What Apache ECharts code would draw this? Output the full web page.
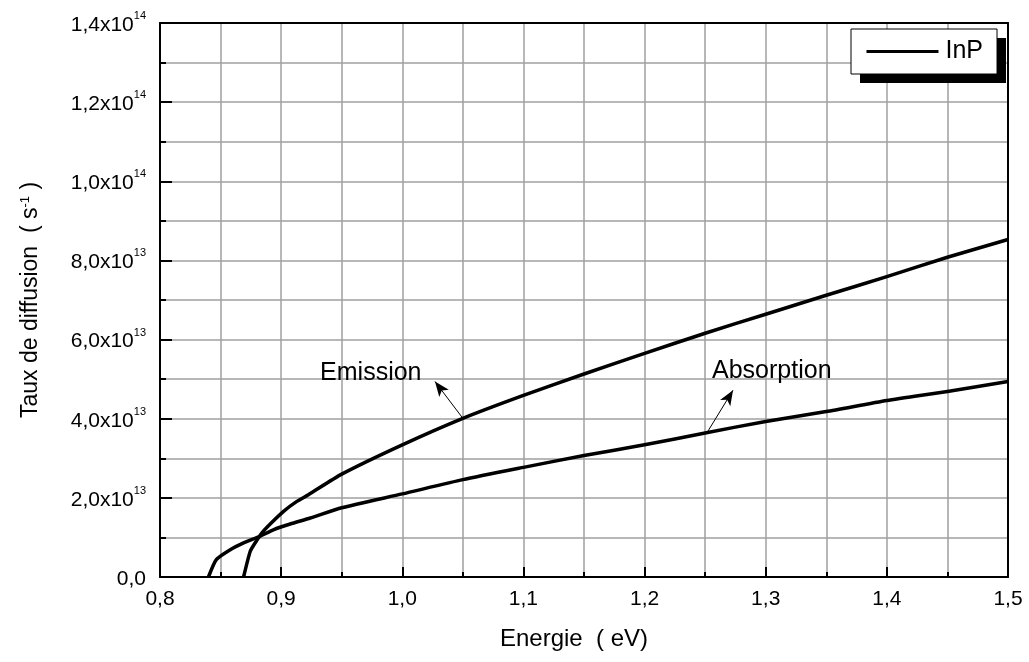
<!DOCTYPE html>
<html>
<head>
<meta charset="utf-8">
<script src="https://cdn.jsdelivr.net/npm/echarts@6/dist/echarts.min.js"></script>
<style>
  html, body { margin: 0; padding: 0; background: #fff; }
  #chart { width: 1029px; height: 662px; }
</style>
</head>
<body>
<div id="chart"></div>
<script>
// Scattering rates in InP versus electron energy (eV), rates in s^-1
const emissionEnergy = [0.869, 0.8745, 0.8785, 0.884, 0.892, 0.902, 0.913, 0.9225, 0.95, 1.0, 1.05, 1.1, 1.15, 1.2, 1.25, 1.3, 1.35, 1.4, 1.45, 1.5];
const emissionRate = [0, 0.65e13, 0.86e13, 1.11e13, 1.37e13, 1.66e13, 1.91e13, 2.08e13, 2.6e13, 3.34e13, 4.01e13, 4.59e13, 5.13e13, 5.65e13, 6.16e13, 6.64e13, 7.12e13, 7.59e13, 8.08e13, 8.53e13];

const absorptionEnergy = [0.840, 0.8465, 0.858, 0.869, 0.8825, 0.894, 0.9075, 0.924, 0.95, 1.0, 1.05, 1.1, 1.15, 1.2, 1.25, 1.3, 1.35, 1.4, 1.45, 1.5];
const absorptionRate = [0, 0.44e13, 0.69e13, 0.86e13, 1.03e13, 1.2e13, 1.34e13, 1.49e13, 1.75e13, 2.1e13, 2.46e13, 2.77e13, 3.07e13, 3.34e13, 3.64e13, 3.93e13, 4.18e13, 4.46e13, 4.69e13, 4.94e13];

// Curve labels with their arrows: [energy, rate] for text, arrow tail (on the curve) and arrow tip
const emissionNote = { text: 'Emission', at: [0.974, 5.14e13], tail: [1.05, 4.01e13], tip: [1.027, 4.94e13] };
const absorptionNote = { text: 'Absorption', at: [1.305, 5.21e13], tail: [1.252, 3.67e13], tip: [1.273, 4.72e13] };

const FONT = '"Liberation Sans", Arial, sans-serif';

function zip(xs, ys) { return xs.map((x, i) => [x, ys[i]]); }

// "1,4x10^14" style labels with a raised exponent
function sciLabel(v) {
  if (v === 0) return '{m|0,0}';
  const e = Math.floor(Math.log10(v) + 1e-9);
  const m = (v / Math.pow(10, e)).toFixed(1).replace('.', ',');
  return '{m|' + m + 'x10}{s|' + e + '}';
}

function note(n) {
  return {
    markPoint: {
      symbol: 'circle', symbolSize: 0, silent: true,
      data: [{ coord: n.at, value: n.text }],
      label: { show: true, position: 'inside', formatter: n.text, color: '#000', fontFamily: FONT, fontSize: 25 }
    },
    markLine: {
      silent: true, symbol: ['none', 'arrow'], symbolSize: [9, 15],
      lineStyle: { color: '#000', width: 1, type: 'solid' },
      label: { show: false },
      data: [[{ coord: n.tail }, { coord: n.tip }]]
    }
  };
}

const chart = echarts.init(document.getElementById('chart'), null, { renderer: 'canvas' });

chart.setOption({
  animation: false,
  backgroundColor: '#fff',
  grid: { left: 160, right: 21, top: 23, bottom: 85 },
  // drop shadow behind the legend box
  graphic: [{
    type: 'rect', left: 860, top: 38, z: 3,
    shape: { width: 146, height: 45 },
    style: { fill: '#000' }
  }],
  legend: {
    data: ['InP'],
    left: 851, top: 29, z: 4,
    padding: [10, 14, 10, 14],
    itemWidth: 72, itemHeight: 25, itemGap: 0,
    backgroundColor: '#fff',
    borderColor: '#000', borderWidth: 1,
    textStyle: { fontFamily: FONT, fontSize: 25, color: '#000', padding: [0, 0, 0, 2] },
    itemStyle: { opacity: 0 },
    lineStyle: { width: 3, color: '#000' }
  },
  xAxis: [{
    type: 'value', min: 0.8, max: 1.5, interval: 0.1,
    name: 'Energie  ( eV)', nameLocation: 'middle', nameGap: 50,
    nameTextStyle: { fontFamily: FONT, fontSize: 24, color: '#000', padding: [0, 20, 0, 0] },
    axisLine: { onZero: false, lineStyle: { color: '#000', width: 2 } },
    axisTick: { inside: true, length: 10, lineStyle: { color: '#000', width: 2 } },
    minorTick: { show: true, splitNumber: 2, length: 5, lineStyle: { color: '#000', width: 2 } },
    axisLabel: { margin: 12, fontFamily: FONT, fontSize: 21, color: '#000',
      formatter: v => v.toFixed(1).replace('.', ',') },
    splitLine: { show: true, lineStyle: { color: '#a0a0a0', width: 1.5 } },
    minorSplitLine: { show: true, lineStyle: { color: '#a0a0a0', width: 1.5 } }
  }, {
    type: 'value', min: 0.8, max: 1.5, position: 'top',
    axisLine: { onZero: false, lineStyle: { color: '#000', width: 2 } },
    axisTick: { show: false }, axisLabel: { show: false }, splitLine: { show: false }
  }],
  yAxis: [{
    type: 'value', min: 0, max: 1.4e14, interval: 2e13,
    name: 'Taux de diffusion  ( s{sup|-1} )', nameLocation: 'middle', nameGap: 118, nameRotate: 90,
    nameTextStyle: { fontFamily: FONT, fontSize: 23, color: '#000',
      rich: { sup: { fontFamily: FONT, fontSize: 13, color: '#000', verticalAlign: 'top', padding: [0, 0, 10, 0] } } },
    axisLine: { onZero: false, lineStyle: { color: '#000', width: 2 } },
    axisTick: { inside: true, length: 12, lineStyle: { color: '#000', width: 2 } },
    minorTick: { show: true, splitNumber: 2, length: 6, lineStyle: { color: '#000', width: 2 } },
    axisLabel: {
      margin: 14, formatter: sciLabel,
      rich: {
        m: { fontFamily: FONT, fontSize: 21, color: '#000', padding: [4, 0, 0, 0] },
        s: { fontFamily: FONT, fontSize: 11, color: '#000', verticalAlign: 'top', padding: [0, 0, 12, 0] }
      }
    },
    splitLine: { show: true, lineStyle: { color: '#a0a0a0', width: 1.5 } },
    minorSplitLine: { show: true, lineStyle: { color: '#a0a0a0', width: 1.5 } }
  }, {
    type: 'value', min: 0, max: 1.4e14, position: 'right',
    axisLine: { show: true, onZero: false, lineStyle: { color: '#000', width: 2 } },
    axisTick: { show: false }, axisLabel: { show: false }, splitLine: { show: false }
  }],
  series: [
    Object.assign({
      name: 'InP', type: 'line', xAxisIndex: 0, yAxisIndex: 0,
      data: zip(emissionEnergy, emissionRate),
      symbol: 'none', smooth: 0.2, z: 5,
      lineStyle: { color: '#000', width: 3.5, join: 'round' }
    }, note(emissionNote)),
    Object.assign({
      name: 'Absorption', type: 'line', xAxisIndex: 0, yAxisIndex: 0,
      data: zip(absorptionEnergy, absorptionRate),
      symbol: 'none', smooth: 0.2, z: 5,
      lineStyle: { color: '#000', width: 3.5, join: 'round' }
    }, note(absorptionNote))
  ]
});
</script>
</body>
</html>
